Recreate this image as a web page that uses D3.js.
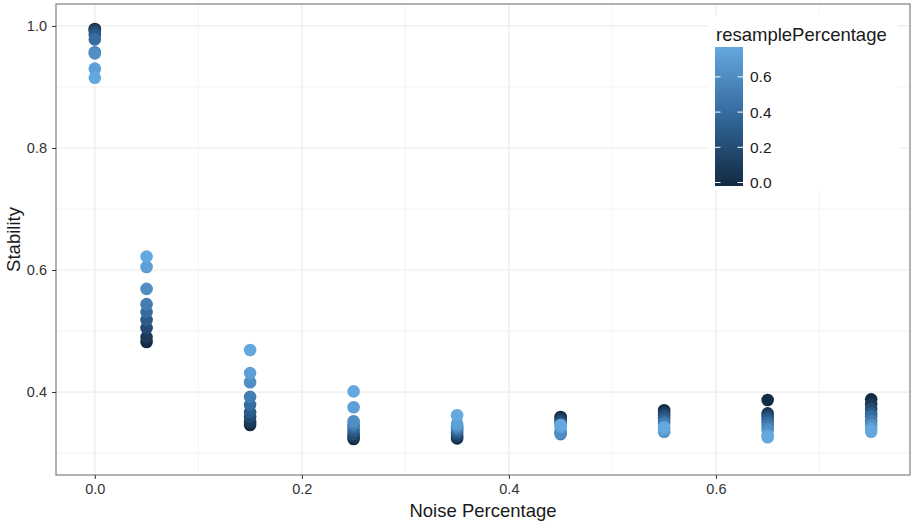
<!DOCTYPE html>
<html>
<head>
<meta charset="utf-8">
<script src="https://cdn.jsdelivr.net/npm/d3@7"></script>
<style>
  body { margin: 0; background: #fff; }
  svg text { font-family: "Liberation Sans", Arial, sans-serif; }
</style>
</head>
<body>
<div id="chart"></div>
<script>
// noise levels on x, one column of points per level
var noise = [0.0, 0.05, 0.15, 0.25, 0.35, 0.45, 0.55, 0.65, 0.75];
// resample percentages (colour), one value per point in each column
var resample = [0.0, 0.1, 0.2, 0.3, 0.4, 0.5, 0.6, 0.7, 0.75];
// stability per noise level, ordered like resample
var stab00 = [0.995, 0.994, 0.991, 0.985, 0.978, 0.957, 0.955, 0.930, 0.915];
var stab05 = [0.482, 0.490, 0.505, 0.518, 0.531, 0.544, 0.569, 0.605, 0.622];
var stab15 = [0.346, 0.351, 0.359, 0.367, 0.379, 0.392, 0.416, 0.431, 0.469];
var stab25 = [0.323, 0.327, 0.331, 0.337, 0.343, 0.347, 0.352, 0.375, 0.401];
var stab35 = [0.324, 0.327, 0.330, 0.334, 0.338, 0.341, 0.344, 0.348, 0.362];
var stab45 = [0.359, 0.356, 0.352, 0.348, 0.335, 0.331, 0.333, 0.343, 0.346];
var stab55 = [0.370, 0.366, 0.362, 0.357, 0.352, 0.348, 0.335, 0.338, 0.342];
var stab65 = [0.387, 0.365, 0.360, 0.355, 0.350, 0.344, 0.338, 0.330, 0.326];
var stab75 = [0.388, 0.380, 0.372, 0.365, 0.360, 0.352, 0.346, 0.340, 0.335];
var stability = [stab00, stab05, stab15, stab25, stab35, stab45, stab55, stab65, stab75];

var xTicks = [0.0, 0.2, 0.4, 0.6];
var xMinor = [0.1, 0.3, 0.5, 0.7];
var yTicks = [0.4, 0.6, 0.8, 1.0];
var yMinor = [0.3, 0.5, 0.7, 0.9];
var legendTicks = [0.0, 0.2, 0.4, 0.6];

var width = 912, height = 522;
var margin = {left: 56, right: 2, top: 4, bottom: 47};
var pw = width - margin.left - margin.right, ph = height - margin.top - margin.bottom;

var points = [];
for (var i = 0; i < noise.length; i++) {
  for (var j = 0; j < resample.length; j++) {
    points.push({noise: noise[i], resample: resample[j], stability: stability[i][j]});
  }
}

var svg = d3.select("#chart").append("svg")
  .attr("width", width).attr("height", height);

var xScale = d3.scaleLinear().domain([-0.0375, 0.7875]).range([0, pw]);
var yScale = d3.scaleLinear().domain([0.264, 1.036]).range([ph, 0]);
var colour = d3.scaleLinear().domain([0, 0.375, 0.75])
  .range(["#132B43", "#33689C", "#64A8E0"]).interpolate(d3.interpolateLab);

var panel = svg.append("g")
  .attr("transform", "translate(" + margin.left + "," + margin.top + ")");

// grid
panel.selectAll(".xminor").data(xMinor).enter().append("line")
  .attr("x1", xScale).attr("x2", xScale).attr("y1", 0).attr("y2", ph)
  .attr("stroke", "#ebebeb").attr("stroke-width", 0.6);
panel.selectAll(".yminor").data(yMinor).enter().append("line")
  .attr("y1", yScale).attr("y2", yScale).attr("x1", 0).attr("x2", pw)
  .attr("stroke", "#ebebeb").attr("stroke-width", 0.6);
panel.selectAll(".xmajor").data(xTicks).enter().append("line")
  .attr("x1", xScale).attr("x2", xScale).attr("y1", 0).attr("y2", ph)
  .attr("stroke", "#ebebeb").attr("stroke-width", 1.2);
panel.selectAll(".ymajor").data(yTicks).enter().append("line")
  .attr("y1", yScale).attr("y2", yScale).attr("x1", 0).attr("x2", pw)
  .attr("stroke", "#ebebeb").attr("stroke-width", 1.2);

// points, low resample drawn first
panel.selectAll("circle")
  .data(points).enter().append("circle")
    .attr("cx", function(d) { return xScale(d.noise); })
    .attr("cy", function(d) { return yScale(d.stability); })
    .attr("r", 6.3)
    .attr("fill", function(d) { return colour(d.resample); });

// legend (inside the panel, white box)
var lx = 708 - margin.left, ly = 15 - margin.top;
var legend = panel.append("g").attr("transform", "translate(" + lx + "," + ly + ")");
legend.append("rect").attr("width", 190).attr("height", 175).attr("fill", "#fff");
legend.append("text").attr("x", 8).attr("y", 26)
  .attr("font-size", 18.5).attr("fill", "#1a1a1a").text("resamplePercentage");

var barTop = 32, barH = 139, barW = 28, barX = 7, nbin = 20;
var defs = svg.append("defs");
var grad = defs.append("linearGradient").attr("id", "cbar")
  .attr("x1", 0).attr("y1", 1).attr("x2", 0).attr("y2", 0);
d3.range(11).forEach(function(k) {
  grad.append("stop").attr("offset", k / 10).attr("stop-color", colour(0.75 * k / 10));
});
legend.append("rect").attr("x", barX).attr("y", barTop)
  .attr("width", barW).attr("height", barH).attr("fill", "url(#cbar)");

var barScale = d3.scaleLinear().domain([0, 0.75])
  .range([barTop + barH - barH * 0.5 / nbin, barTop + barH * 0.5 / nbin]);
legendTicks.forEach(function(t) {
  var y = barScale(t);
  legend.append("line").attr("x1", barX).attr("x2", barX + 5.5).attr("y1", y).attr("y2", y)
    .attr("stroke", "#fff").attr("stroke-width", 1);
  legend.append("line").attr("x1", barX + barW - 5.5).attr("x2", barX + barW).attr("y1", y).attr("y2", y)
    .attr("stroke", "#fff").attr("stroke-width", 1);
  legend.append("text").attr("x", barX + barW + 7).attr("y", y).attr("dy", "0.36em")
    .attr("font-size", 15.5).attr("fill", "#1a1a1a").text(d3.format(".1f")(t));
});

// border
panel.append("rect").attr("width", pw).attr("height", ph)
  .attr("fill", "none").attr("stroke", "#7f7f7f").attr("stroke-width", 1.2);

// axes
var xAxis = svg.append("g")
  .attr("transform", "translate(" + margin.left + "," + (margin.top + ph) + ")")
  .call(d3.axisBottom(xScale).tickValues(xTicks).tickFormat(d3.format(".1f")).tickSize(4).tickPadding(5));
var yAxis = svg.append("g")
  .attr("transform", "translate(" + margin.left + "," + margin.top + ")")
  .call(d3.axisLeft(yScale).tickValues(yTicks).tickFormat(d3.format(".1f")).tickSize(4).tickPadding(5));
[xAxis, yAxis].forEach(function(a) {
  a.select(".domain").remove();
  a.selectAll(".tick line").attr("stroke", "#333");
  a.selectAll(".tick text").attr("font-size", 14.5).attr("fill", "#333")
    .attr("font-family", "Liberation Sans, Arial, sans-serif");
});

svg.append("text").attr("x", margin.left + pw / 2).attr("y", 517)
  .attr("text-anchor", "middle").attr("font-size", 18.5).attr("fill", "#1a1a1a")
  .text("Noise Percentage");
svg.append("text").attr("transform", "translate(20," + (margin.top + ph / 2) + ") rotate(-90)")
  .attr("text-anchor", "middle").attr("font-size", 18.5).attr("fill", "#1a1a1a")
  .text("Stability");
</script>
</body>
</html>
